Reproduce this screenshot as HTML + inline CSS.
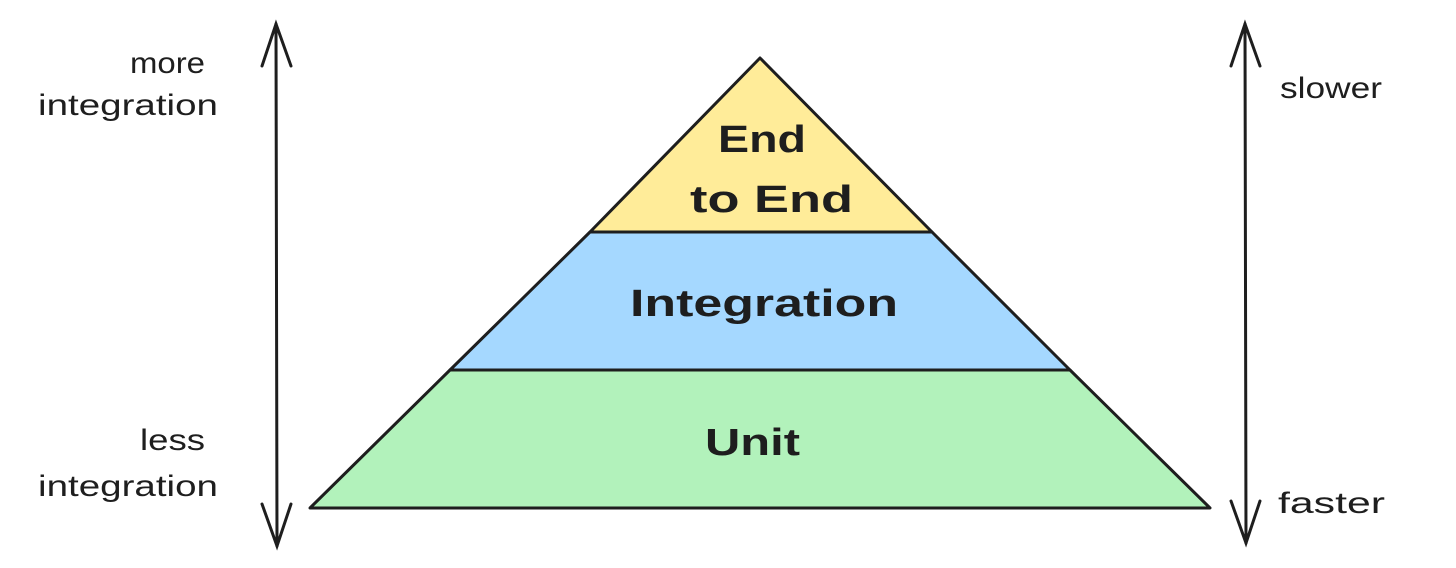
<!DOCTYPE html>
<html><head><meta charset="utf-8"><style>
html,body{margin:0;padding:0;background:#fff;}
svg{display:block}
text{font-family:"Liberation Sans",sans-serif;fill:#1e1e1e}
</style></head><body>
<svg width="1456" height="568" viewBox="0 0 1456 568" xmlns="http://www.w3.org/2000/svg">
<rect width="1456" height="568" fill="#fff"/>
<polygon points="760,58 932,232 590,232" fill="#ffec99" stroke="#1e1e1e" stroke-width="3" stroke-linejoin="round"/>
<polygon points="590,232 932,232 1070,370 450,370" fill="#a5d8ff" stroke="#1e1e1e" stroke-width="3" stroke-linejoin="round"/>
<polygon points="450,370 1070,370 1210,508 310,508" fill="#b2f2bb" stroke="#1e1e1e" stroke-width="3" stroke-linejoin="round"/>
<g stroke="#1e1e1e" stroke-width="3" fill="none" stroke-linecap="round">
<line x1="276" y1="24" x2="277" y2="546"/>
<polyline points="262,66 276,24 291,66"/>
<polyline points="262,504 277,546 291,504"/>
<line x1="1245" y1="24" x2="1246" y2="543"/>
<polyline points="1231,66 1245,24 1260,66"/>
<polyline points="1231,501 1246,543 1260,501"/>
</g>
<g font-size="30" lengthAdjust="spacingAndGlyphs">
<text x="130" y="73" textLength="75" lengthAdjust="spacingAndGlyphs">more</text>
<text x="38" y="115" textLength="180" lengthAdjust="spacingAndGlyphs">integration</text>
<text x="140" y="450" textLength="65" lengthAdjust="spacingAndGlyphs">less</text>
<text x="38" y="496" textLength="180" lengthAdjust="spacingAndGlyphs">integration</text>
<text x="1280" y="98" textLength="102" lengthAdjust="spacingAndGlyphs">slower</text>
<text x="1278" y="513" textLength="107" lengthAdjust="spacingAndGlyphs">faster</text>
</g>
<g font-size="38" font-weight="bold">
<text x="718" y="152" textLength="88" lengthAdjust="spacingAndGlyphs">End</text>
<text x="690" y="212" textLength="163" lengthAdjust="spacingAndGlyphs">to End</text>
<text x="630" y="316" textLength="268" lengthAdjust="spacingAndGlyphs">Integration</text>
<text x="705" y="455" textLength="95" lengthAdjust="spacingAndGlyphs">Unit</text>
</g>
</svg>
</body></html>
